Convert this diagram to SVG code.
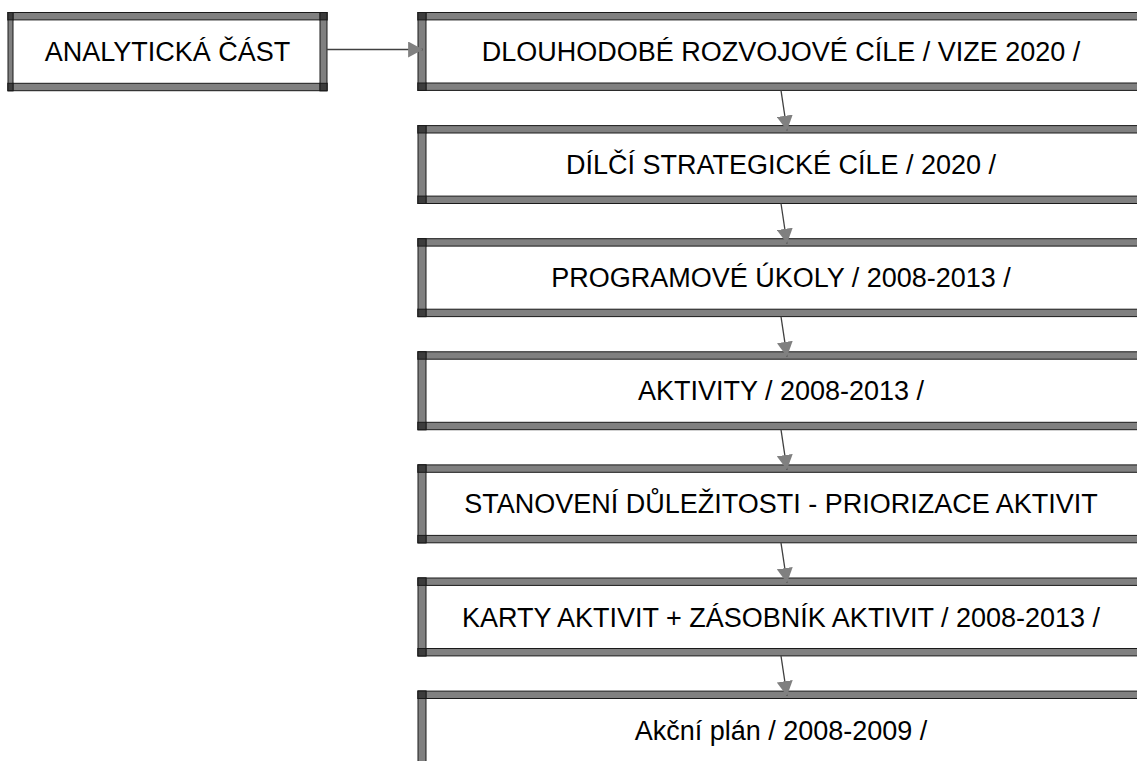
<svg xmlns="http://www.w3.org/2000/svg" width="1137" height="761" viewBox="0 0 1137 761">
  <style>
    .bar { fill: #808080; stroke: #1a1a1a; stroke-width: 1; }
    .corner { fill: #3c3c3c; stroke: #1a1a1a; stroke-width: 1; }
    .lbl { font-family: "Liberation Sans", Arial, sans-serif; font-size: 27px; fill: #000; text-anchor: middle; }
    .conn { stroke: #404040; stroke-width: 1.3; fill: none; }
  </style>
  <defs>
    <marker id="arr" markerUnits="userSpaceOnUse" markerWidth="16" markerHeight="16" viewBox="0 0 14 14" refX="13" refY="7" orient="auto">
      <path d="M0,0 L13,7 L0,14 Z" fill="#808080"/>
    </marker>
  </defs>
  <rect width="1137" height="761" fill="#fff"/>

  <g id="analyticka">
    <rect class="bar" x="8" y="12.5" width="319" height="7.4"/>
    <rect class="bar" x="8" y="83.3" width="319" height="7.4"/>
    <rect class="bar" x="8" y="12.5" width="5" height="78.2"/>
    <rect class="bar" x="320" y="12.5" width="7" height="78.2"/>
    <rect class="corner" x="8" y="12.5" width="5" height="7.4"/>
    <rect class="corner" x="8" y="83.3" width="5" height="7.4"/>
    <rect class="corner" x="320" y="12.5" width="7" height="7.4"/>
    <rect class="corner" x="320" y="83.3" width="7" height="7.4"/>
    <text class="lbl" x="167.5" y="61">ANALYTICKÁ ČÁST</text>
  </g>

  <g id="box1">
    <rect class="bar" x="418" y="12.5" width="740" height="7.4"/>
    <rect class="bar" x="418" y="83" width="740" height="7.4"/>
    <rect class="bar" x="418" y="12.5" width="8" height="77.9"/>
    <rect class="corner" x="418" y="12.5" width="8" height="7.4"/>
    <rect class="corner" x="418" y="83" width="8" height="7.4"/>
    <text class="lbl" x="781" y="61">DLOUHODOBÉ ROZVOJOVÉ CÍLE / VIZE 2020 /</text>
  </g>

  <g id="box2">
    <rect class="bar" x="418" y="125.6" width="740" height="7.4"/>
    <rect class="bar" x="418" y="196.1" width="740" height="7.4"/>
    <rect class="bar" x="418" y="125.6" width="8" height="77.9"/>
    <rect class="corner" x="418" y="125.6" width="8" height="7.4"/>
    <rect class="corner" x="418" y="196.1" width="8" height="7.4"/>
    <text class="lbl" x="781" y="174.1">DÍLČÍ STRATEGICKÉ CÍLE / 2020 /</text>
  </g>

  <g id="box3">
    <rect class="bar" x="418" y="238.7" width="740" height="7.4"/>
    <rect class="bar" x="418" y="309.2" width="740" height="7.4"/>
    <rect class="bar" x="418" y="238.7" width="8" height="77.9"/>
    <rect class="corner" x="418" y="238.7" width="8" height="7.4"/>
    <rect class="corner" x="418" y="309.2" width="8" height="7.4"/>
    <text class="lbl" x="781" y="287.2">PROGRAMOVÉ ÚKOLY / 2008-2013 /</text>
  </g>

  <g id="box4">
    <rect class="bar" x="418" y="351.8" width="740" height="7.4"/>
    <rect class="bar" x="418" y="422.3" width="740" height="7.4"/>
    <rect class="bar" x="418" y="351.8" width="8" height="77.9"/>
    <rect class="corner" x="418" y="351.8" width="8" height="7.4"/>
    <rect class="corner" x="418" y="422.3" width="8" height="7.4"/>
    <text class="lbl" x="781" y="400.3">AKTIVITY / 2008-2013 /</text>
  </g>

  <g id="box5">
    <rect class="bar" x="418" y="464.9" width="740" height="7.4"/>
    <rect class="bar" x="418" y="535.4" width="740" height="7.4"/>
    <rect class="bar" x="418" y="464.9" width="8" height="77.9"/>
    <rect class="corner" x="418" y="464.9" width="8" height="7.4"/>
    <rect class="corner" x="418" y="535.4" width="8" height="7.4"/>
    <text class="lbl" x="781" y="513.4">STANOVENÍ DŮLEŽITOSTI - PRIORIZACE AKTIVIT</text>
  </g>

  <g id="box6">
    <rect class="bar" x="418" y="578" width="740" height="7.4"/>
    <rect class="bar" x="418" y="648.5" width="740" height="7.4"/>
    <rect class="bar" x="418" y="578" width="8" height="77.9"/>
    <rect class="corner" x="418" y="578" width="8" height="7.4"/>
    <rect class="corner" x="418" y="648.5" width="8" height="7.4"/>
    <text class="lbl" x="781" y="626.5">KARTY AKTIVIT + ZÁSOBNÍK AKTIVIT / 2008-2013 /</text>
  </g>

  <g id="box7">
    <rect class="bar" x="418" y="691.1" width="740" height="7.4"/>
    <rect class="bar" x="418" y="691.1" width="8" height="80"/>
    <rect class="corner" x="418" y="691.1" width="8" height="7.4"/>
    <text class="lbl" x="781" y="739.6">Akční plán / 2008-2009 /</text>
  </g>

  <g id="connectors">
    <line class="conn" x1="327" y1="49.5" x2="423" y2="49.5" marker-end="url(#arr)"/>
    <line class="conn" x1="781" y1="90.4" x2="787" y2="130.5" marker-end="url(#arr)"/>
    <line class="conn" x1="781" y1="203.5" x2="787" y2="243.6" marker-end="url(#arr)"/>
    <line class="conn" x1="781" y1="316.6" x2="787" y2="356.7" marker-end="url(#arr)"/>
    <line class="conn" x1="781" y1="429.7" x2="787" y2="469.8" marker-end="url(#arr)"/>
    <line class="conn" x1="781" y1="542.8" x2="787" y2="582.9" marker-end="url(#arr)"/>
    <line class="conn" x1="781" y1="655.9" x2="787" y2="696" marker-end="url(#arr)"/>
  </g>
</svg>
